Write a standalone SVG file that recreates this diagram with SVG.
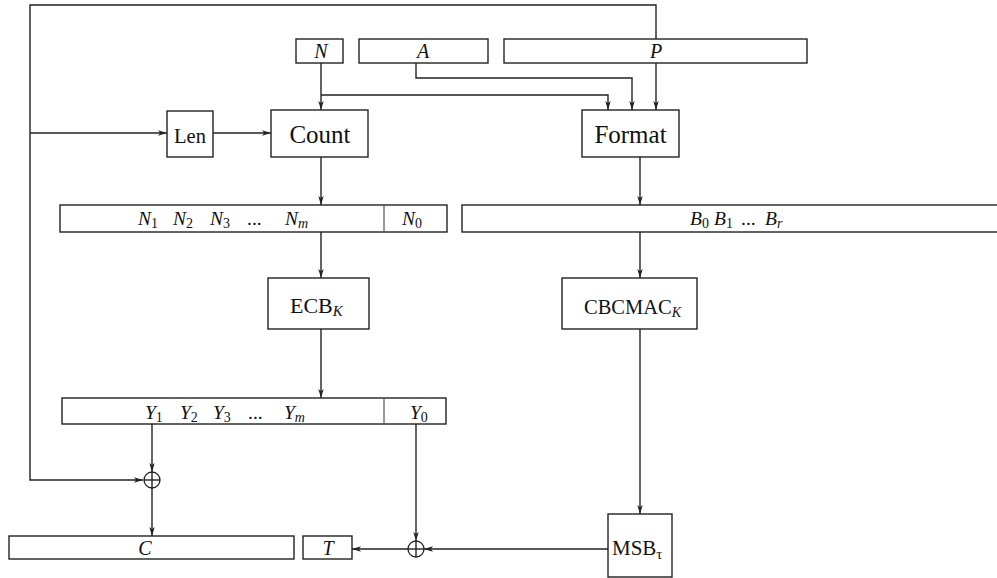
<svg xmlns="http://www.w3.org/2000/svg" width="997" height="578" viewBox="0 0 997 578">
<style>
  .box { fill: #fff; stroke: #222; stroke-width: 1.4; }
  .div { stroke: #555; stroke-width: 1.2; }
  .wire { fill: none; stroke: #222; stroke-width: 1.4; }
  .arr { marker-end: url(#ah); }
  .t { font-family: "Liberation Serif", "Times New Roman", "DejaVu Serif", serif; fill: #111; }
  .it { font-style: italic; }
  .lbl { font-size: 20px; text-anchor: middle; }
  .big { font-size: 25px; text-anchor: middle; }
  .row { font-size: 19.5px; font-style: italic; }
  .sub { font-size: 14px; font-style: normal; }
  .subi { font-size: 14px; font-style: italic; }
  .xor { fill: #fff; stroke: #222; stroke-width: 1.3; }
</style>
<defs>
  <marker id="ah" viewBox="0 0 10 6" refX="10" refY="3" markerWidth="9" markerHeight="5.4" markerUnits="userSpaceOnUse" orient="auto">
    <path d="M0,0 L10,3 L0,6 L2.5,3 z" fill="#222"/>
  </marker>
</defs>

<g id="connectors">
  <polyline class="wire arr" points="656,39 656,5 30,5 30,480 143,480"/>
  <line class="wire arr" x1="30" y1="133" x2="167" y2="133"/>
  <line class="wire arr" x1="213" y1="133" x2="271" y2="133"/>
  <line class="wire arr" x1="321" y1="63" x2="321" y2="110"/>
  <polyline class="wire arr" points="321,95 608,95 608,110"/>
  <polyline class="wire arr" points="416,63 416,78 632,78 632,110"/>
  <line class="wire arr" x1="656" y1="63" x2="656" y2="110"/>
  <line class="wire arr" x1="321" y1="157" x2="321" y2="205"/>
  <line class="wire arr" x1="321" y1="232" x2="321" y2="278"/>
  <line class="wire arr" x1="321" y1="329" x2="321" y2="398"/>
  <line class="wire arr" x1="152" y1="424" x2="152" y2="472"/>
  <line class="wire arr" x1="152" y1="488" x2="152" y2="536"/>
  <line class="wire arr" x1="416" y1="424" x2="416" y2="541"/>
  <line class="wire arr" x1="608" y1="549" x2="424" y2="549"/>
  <line class="wire arr" x1="408" y1="549" x2="352" y2="549"/>
  <line class="wire arr" x1="640" y1="157" x2="640" y2="205"/>
  <line class="wire arr" x1="640" y1="232" x2="640" y2="278"/>
  <line class="wire arr" x1="640" y1="329" x2="640" y2="514"/>
</g>

<g id="N">
  <rect class="box" x="296" y="39" width="47" height="24"/>
  <text class="t it lbl" x="321" y="58">N</text>
</g>
<g id="A">
  <rect class="box" x="359" y="39" width="129" height="24"/>
  <text class="t it lbl" x="423" y="58">A</text>
</g>
<g id="P">
  <rect class="box" x="504" y="39" width="303" height="24"/>
  <text class="t it lbl" x="656" y="58">P</text>
</g>
<g id="Len">
  <rect class="box" x="167" y="111" width="46" height="46"/>
  <text class="t" x="190" y="143" font-size="20.5" text-anchor="middle">Len</text>
</g>
<g id="Count">
  <rect class="box" x="271" y="110" width="97" height="47"/>
  <text class="t big" x="320" y="143">Count</text>
</g>
<g id="Format">
  <rect class="box" x="582" y="110" width="97" height="47"/>
  <text class="t big" x="630.5" y="143">Format</text>
</g>
<g id="Nrow">
  <rect class="box" x="60" y="205" width="387" height="27"/>
  <line class="div" x1="384" y1="205" x2="384" y2="232"/>
  <text class="t row" y="225">
    <tspan x="138">N</tspan><tspan class="sub" dy="3">1</tspan>
    <tspan x="173" dy="-3">N</tspan><tspan class="sub" dy="3">2</tspan>
    <tspan x="210" dy="-3">N</tspan><tspan class="sub" dy="3">3</tspan>
    <tspan x="247" dy="-3" font-style="normal">...</tspan>
    <tspan x="285">N</tspan><tspan class="subi" dy="3">m</tspan>
    <tspan x="402" dy="-3">N</tspan><tspan class="sub" dy="3">0</tspan>
  </text>
</g>
<g id="Brow">
  <rect class="box" x="462" y="205" width="540" height="27"/>
  <text class="t row" y="225">
    <tspan x="690">B</tspan><tspan class="sub" dy="3">0</tspan>
    <tspan x="714" dy="-3">B</tspan><tspan class="sub" dy="3">1</tspan>
    <tspan x="741" dy="-3" font-style="normal">...</tspan>
    <tspan x="765">B</tspan><tspan class="subi" dy="3">r</tspan>
  </text>
</g>
<g id="ECB">
  <rect class="box" x="268" y="278" width="101" height="51"/>
  <text class="t" x="290" y="313" font-size="22">ECB<tspan font-size="15" font-style="italic" dy="3">K</tspan></text>
</g>
<g id="CBCMAC">
  <rect class="box" x="562" y="278" width="135" height="51"/>
  <text class="t" x="584" y="314" font-size="20.5">CBCMAC<tspan font-size="14" font-style="italic" dy="3">K</tspan></text>
</g>
<g id="Yrow">
  <rect class="box" x="62" y="398" width="384" height="26"/>
  <line class="div" x1="384" y1="398" x2="384" y2="424"/>
  <text class="t row" y="419">
    <tspan x="145">Y</tspan><tspan class="sub" dy="3">1</tspan>
    <tspan x="180" dy="-3">Y</tspan><tspan class="sub" dy="3">2</tspan>
    <tspan x="213" dy="-3">Y</tspan><tspan class="sub" dy="3">3</tspan>
    <tspan x="248" dy="-3" font-style="normal">...</tspan>
    <tspan x="284">Y</tspan><tspan class="subi" dy="3">m</tspan>
    <tspan x="410" dy="-3">Y</tspan><tspan class="sub" dy="3">0</tspan>
  </text>
</g>
<g id="xor1">
  <circle class="xor" cx="152" cy="480" r="8"/>
  <line class="wire" x1="144" y1="480" x2="160" y2="480"/>
  <line class="wire" x1="152" y1="472" x2="152" y2="488"/>
</g>
<g id="xor2">
  <circle class="xor" cx="416" cy="549" r="8"/>
  <line class="wire" x1="408" y1="549" x2="424" y2="549"/>
  <line class="wire" x1="416" y1="541" x2="416" y2="557"/>
</g>
<g id="C">
  <rect class="box" x="9" y="536" width="285" height="23"/>
  <text class="t it lbl" x="145" y="555">C</text>
</g>
<g id="T">
  <rect class="box" x="303" y="536" width="49" height="23"/>
  <text class="t it lbl" x="328" y="555">T</text>
</g>
<g id="MSB">
  <rect class="box" x="608" y="514" width="64" height="63"/>
  <text class="t" x="612" y="555" font-size="21">MSB<tspan font-size="15" dy="4">τ</tspan></text>
</g>
</svg>
